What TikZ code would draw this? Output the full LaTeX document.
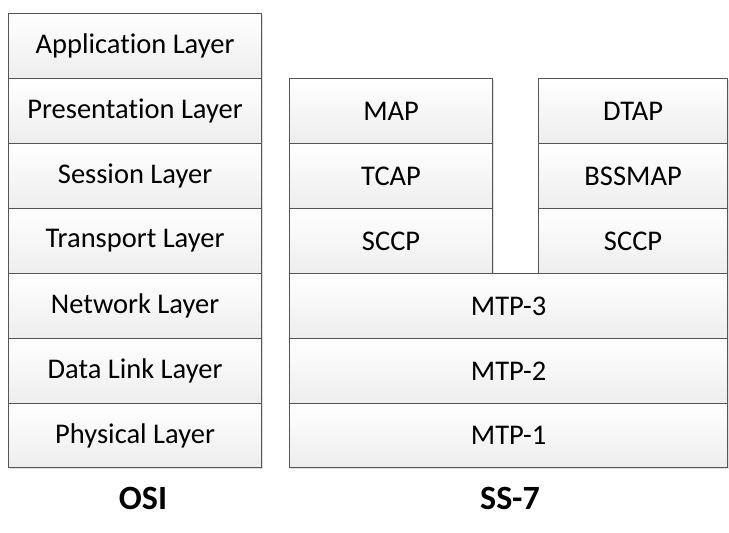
\documentclass[tikz,border=0pt]{standalone}
\usepackage{fontspec}
\setmainfont{Carlito}[Ligatures=NoCommon]
\usetikzlibrary{shadows}
\definecolor{edge}{HTML}{555555}
\tikzset{
  layer/.style={draw=edge, line width=1.2pt, top color=white, bottom color=black!7,
    drop shadow={shadow xshift=1.5pt, shadow yshift=-1.5pt, fill=black!12, opacity=1},
    font=\fontsize{28.5}{30}\selectfont, inner sep=0pt},
  caption/.style={font=\bfseries\fontsize{34}{36}\selectfont}
}
\newcommand{\lbox}[6]{% name, x1, y1, x2, y2, text
  \node[layer, minimum width={#4-#2}, minimum height={#5-#3}, anchor=north west] (#1) at (#2,-#3) {#6};}
\begin{document}
\begin{tikzpicture}[x=1pt,y=1pt]
\useasboundingbox (0,0) rectangle (729,-533);
% OSI
\lbox{app}{8pt}{13}{261pt}{78pt}{Application Layer}
\lbox{pres}{8pt}{78}{261pt}{143pt}{Presentation Layer}
\lbox{sess}{8pt}{143}{261pt}{208pt}{Session Layer}
\lbox{trans}{8pt}{208}{261pt}{273pt}{Transport Layer}
\lbox{net}{8pt}{273}{261pt}{338pt}{Network Layer}
\lbox{dl}{8pt}{338}{261pt}{403pt}{Data Link Layer}
\lbox{phy}{8pt}{403}{261pt}{467pt}{Physical Layer}
% SS-7
\lbox{map}{289pt}{78}{492pt}{143pt}{MAP}
\lbox{tcap}{289pt}{143}{492pt}{208pt}{TCAP}
\lbox{sccpa}{289pt}{208}{492pt}{273pt}{SCCP}
\lbox{dtap}{538pt}{78}{727pt}{143pt}{DTAP}
\lbox{bssmap}{538pt}{143}{727pt}{208pt}{BSSMAP}
\lbox{sccpb}{538pt}{208}{727pt}{273pt}{SCCP}
\lbox{mtp3}{289pt}{273}{727pt}{338pt}{MTP-3}
\lbox{mtp2}{289pt}{338}{727pt}{403pt}{MTP-2}
\lbox{mtp1}{289pt}{403}{727pt}{467pt}{MTP-1}
\node[caption] (osi) at (143,-498) {OSI};
\node[caption] (ss7) at (510,-498) {SS-7};
\end{tikzpicture}
\end{document}
